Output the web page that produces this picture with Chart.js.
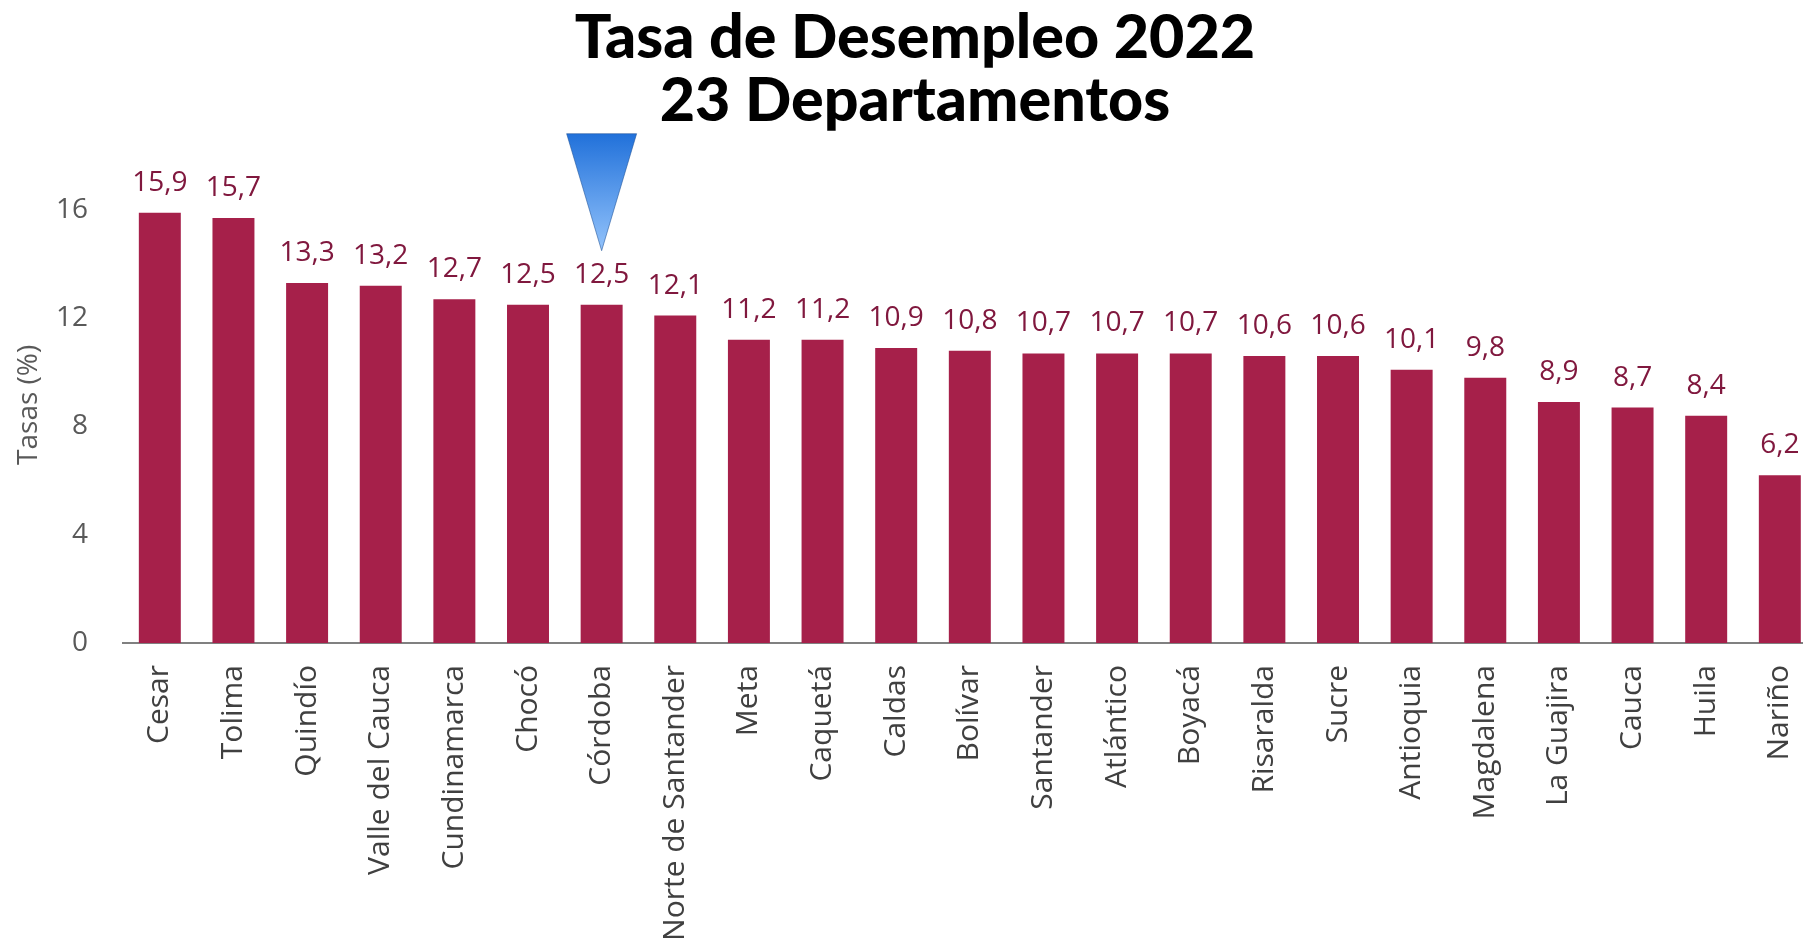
<!DOCTYPE html>
<html lang="es">
<head>
<meta charset="utf-8">
<title>Tasa de Desempleo 2022</title>
<script src="https://cdn.jsdelivr.net/npm/chart.js@4.4.1/dist/chart.umd.min.js"></script>
<style>
    html, body { margin: 0; padding: 0; background: #ffffff; overflow: hidden; }
    #contenedor { position: absolute; left: 0; top: 0; }
</style>
</head>
<body>
<div id="contenedor">
    <canvas id="graficoDesempleo" width="1838" height="939"></canvas>
</div>
<script>
// Datos del gráfico
const titulo = ['Tasa de Desempleo 2022', '23 Departamentos'];
const departamentos = [
    'Cesar', 'Tolima', 'Quindío', 'Valle del Cauca', 'Cundinamarca', 'Chocó',
    'Córdoba', 'Norte de Santander', 'Meta', 'Caquetá', 'Caldas', 'Bolívar',
    'Santander', 'Atlántico', 'Boyacá', 'Risaralda', 'Sucre', 'Antioquia',
    'Magdalena', 'La Guajira', 'Cauca', 'Huila', 'Nariño'
];
const tasas = [
    15.9, 15.7, 13.3, 13.2, 12.7, 12.5,
    12.5, 12.1, 11.2, 11.2, 10.9, 10.8,
    10.7, 10.7, 10.7, 10.6, 10.6, 10.1,
    9.8, 8.9, 8.7, 8.4, 6.2
];
const marcasEjeY = [0, 4, 8, 12, 16];
const tituloEjeY = 'Tasas (%)';
const destacado = 'Córdoba';

const COLOR_BARRA = '#A6204A';
const COLOR_VALOR = '#80183E';

function formatearValor(valor) {
    return valor.toFixed(1).replace('.', ',');
}

// Etiquetas de valor encima de cada barra
const etiquetasValores = {
    id: 'etiquetasValores',
    afterDatasetsDraw(chart) {
        const ctx = chart.ctx;
        const barras = chart.getDatasetMeta(0).data;
        ctx.save();
        ctx.font = '28px "Open Sans"';
        ctx.fillStyle = COLOR_VALOR;
        ctx.textAlign = 'center';
        ctx.textBaseline = 'alphabetic';
        barras.forEach((barra, i) => {
            ctx.fillText(formatearValor(tasas[i]), barra.x, barra.y - 22);
        });
        ctx.restore();
    }
};

// Triángulo azul sobre el departamento destacado
const marcador = {
    id: 'marcador',
    afterDatasetsDraw(chart) {
        const ctx = chart.ctx;
        const i = departamentos.indexOf(destacado);
        const barra = chart.getDatasetMeta(0).data[i];
        const x = barra.x;
        const punta = barra.y - 54;
        const arriba = punta - 117;

        const degradado = ctx.createLinearGradient(0, arriba, 0, punta);
        degradado.addColorStop(0, '#2171DA');
        degradado.addColorStop(1, '#93C3FB');

        ctx.save();
        ctx.beginPath();
        ctx.moveTo(x - 35, arriba);
        ctx.lineTo(x + 35, arriba);
        ctx.lineTo(x, punta);
        ctx.closePath();
        ctx.fillStyle = degradado;
        ctx.fill();
        ctx.strokeStyle = 'rgba(30, 80, 150, 0.55)';
        ctx.lineWidth = 1;
        ctx.stroke();
        ctx.restore();
    }
};

const ctx = document.getElementById('graficoDesempleo').getContext('2d');
new Chart(ctx, {
    type: 'bar',
    data: {
        labels: departamentos,
        datasets: [{
            label: 'Tasa de desempleo',
            data: tasas,
            backgroundColor: COLOR_BARRA,
            borderWidth: 0,
            barPercentage: 0.57,
            categoryPercentage: 1
        }]
    },
    options: {
        responsive: false,
        animation: false,
        layout: {
            padding: { left: 0, right: 8, top: 0, bottom: 0 }
        },
        plugins: {
            legend: { display: false },
            tooltip: { enabled: false },
            title: {
                display: true,
                text: titulo,
                color: '#000000',
                font: { family: 'Lato', size: 61, weight: '900', lineHeight: 1.03 },
                padding: { top: 7, bottom: 34 }
            }
        },
        scales: {
            x: {
                grid: { display: false, drawTicks: false },
                border: { display: true, color: '#808080', width: 2 },
                ticks: {
                    autoSkip: false,
                    minRotation: 90,
                    maxRotation: 90,
                    padding: 22,
                    color: '#404040',
                    font: { family: 'Open Sans', size: 30 }
                },
                afterFit(escala) {
                    escala.height = 296;
                }
            },
            y: {
                min: 0,
                max: 17.6,
                grid: { display: false, drawTicks: false },
                border: { display: false },
                ticks: {
                    stepSize: 4,
                    includeBounds: false,
                    padding: 35,
                    color: '#595959',
                    font: { family: 'Open Sans', size: 28 },
                    callback: (valor) => marcasEjeY.includes(valor) ? valor : ''
                },
                title: {
                    display: true,
                    text: tituloEjeY,
                    color: '#595959',
                    font: { family: 'Open Sans', size: 28 },
                    padding: { top: 12, bottom: 0 }
                },
                afterFit(escala) {
                    escala.width = 123;
                }
            }
        }
    },
    plugins: [etiquetasValores, marcador]
});
</script>
</body>
</html>
